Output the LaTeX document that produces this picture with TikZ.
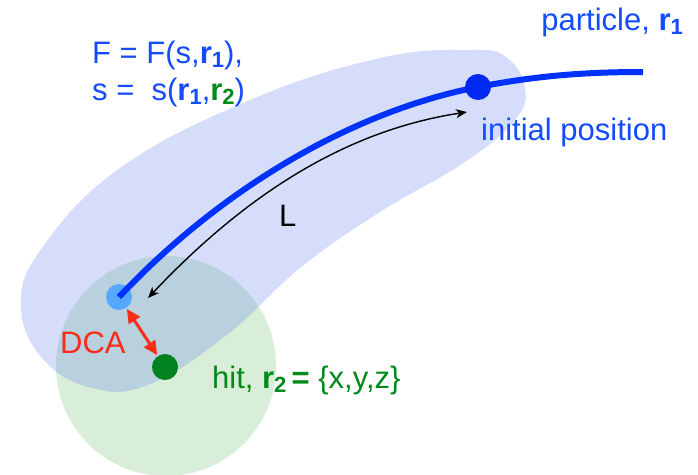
\documentclass[tikz,border=0pt]{standalone}
\usepackage{fontspec}
\setmainfont{Liberation Sans}
\usetikzlibrary{arrows.meta}
\definecolor{blobc}{RGB}{105,130,240}
\definecolor{greenc}{RGB}{216,238,216}
\definecolor{curveblue}{RGB}{0,50,255}
\definecolor{textblue}{RGB}{20,75,255}
\definecolor{darkdot}{RGB}{0,40,240}
\definecolor{lightdot}{RGB}{85,168,255}
\definecolor{hitgreen}{RGB}{0,130,30}
\definecolor{textgreen}{RGB}{0,138,25}
\definecolor{dcared}{RGB}{250,45,25}
\newcommand{\subs}[1]{\raisebox{-0.3ex}{\fontsize{22}{22}\selectfont #1}}
\tikzset{
  lbl/.style={inner sep=0pt, anchor=base west, font=\fontsize{31}{37}\selectfont},
  dot/.style={circle, inner sep=0pt, minimum size=26pt},
  lenarrow/.style={line width=1.4pt, {Stealth[length=11pt,width=9pt,inset=3pt]}-{Stealth[length=11pt,width=9pt,inset=3pt]}},
  dcaarrow/.style={line width=3pt, dcared, {Triangle[length=14pt,width=13pt]}-{Triangle[length=14pt,width=13pt]}, shorten <=1pt, shorten >=1pt}
}
\begin{document}
\begin{tikzpicture}[x=1pt,y=-1pt]
\useasboundingbox (0,0) rectangle (698,474);
% green sphere
\fill[greenc] (166,366) circle (110);
% blob
\fill[blobc, fill opacity=0.27] plot[smooth cycle, tension=0.7] coordinates {
  (525,88) (506,57) (470,50) (380,58) (250,100) (120,168) (42,248) (21,305)
  (42,358) (92,388) (150,384) (228,334) (300,268) (380,212) (465,162) (515,120)};
% dots
\node[dot, fill=hitgreen] (hit) at (165,367) {};
\node[dot, fill=lightdot] (dca) at (119,297) {};
% particle trajectory
\draw[curveblue, line width=6pt] (119,297) .. controls (215,195) and (345,113) .. (478,87)
  .. controls (540,75) and (590,72) .. (643,72);
\node[dot, fill=darkdot] (init) at (478,87) {};
% length arrow
\coordinate (la) at (148,298);
\coordinate (lb) at (467,112);
\draw[lenarrow] (la) .. controls (250,190) and (350,130) .. (lb);
% DCA arrow
\draw[dcaarrow] (dca) -- (hit);
% labels
\node[lbl, textblue] (f1) at (92,63) {F = F(s,\textbf{r}\subs{\textbf{1}}),};
\node[lbl, textblue] (f2) at (92,100) {s =\ \ s(\textbf{r}\subs{\textbf{1}},\textcolor{textgreen}{\textbf{r}\subs{\textbf{2}}})};
\node[lbl, textblue, anchor=base east] (part) at (683,30) {particle, \textbf{r}\subs{\textbf{1}}};
\node[lbl, textblue] (ip) at (481,140) {initial position};
\node[lbl] (L) at (279,226) {L};
\node[lbl, dcared] (dcal) at (60,353) {DCA};
\node[lbl, textgreen] (hitl) at (212,388) {hit, \textbf{r}\subs{\textbf{2}}\,\textbf{=} \{x,y,z\}};
\end{tikzpicture}
\end{document}
